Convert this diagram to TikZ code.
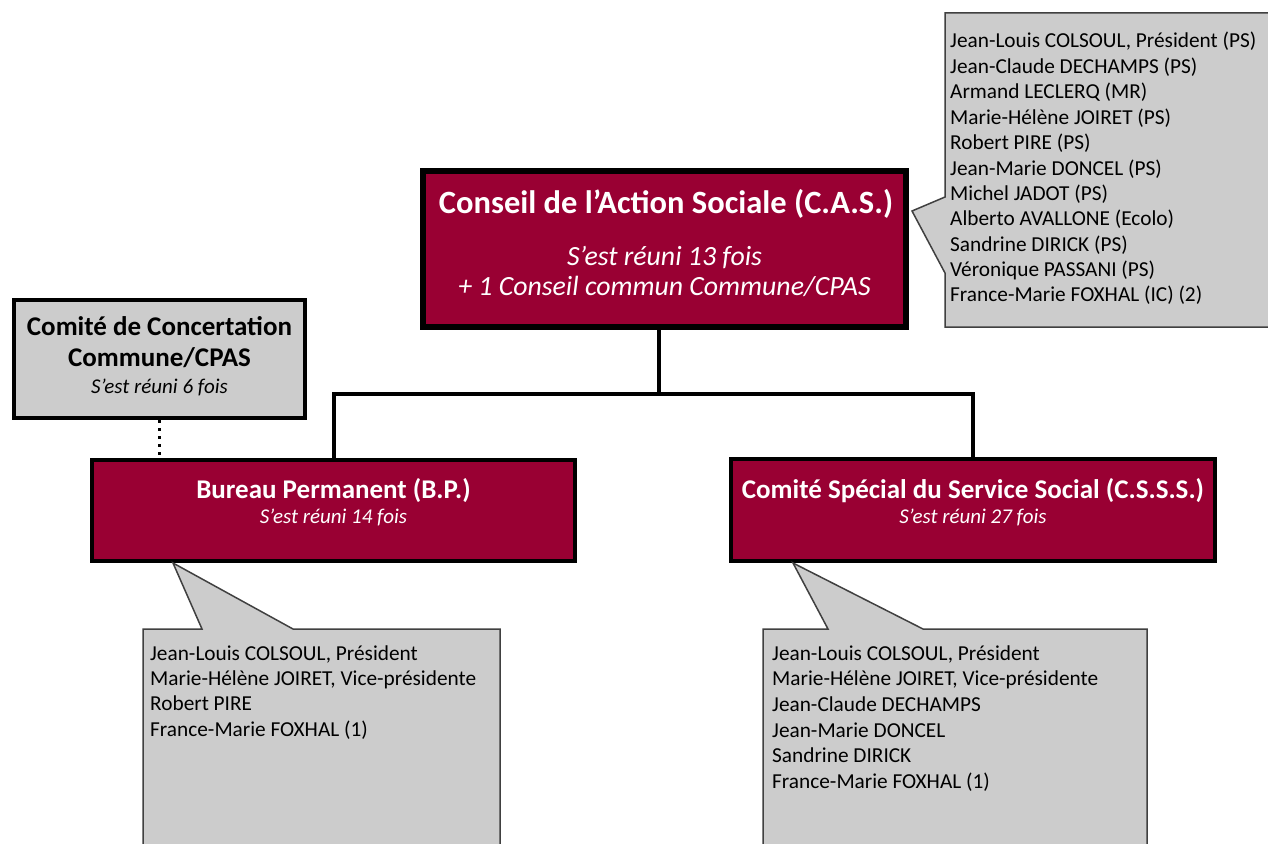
\documentclass[tikz,border=0pt]{standalone}
\usepackage{fontspec}
\setmainfont{Carlito}
\definecolor{bordeaux}{RGB}{153,0,51}
\definecolor{lightgr}{RGB}{204,204,204}
\definecolor{edgegr}{RGB}{64,64,64}
\tikzset{
  redbox/.style={draw=black, fill=bordeaux, inner sep=0pt},
  greybox/.style={draw=black, line width=4pt, fill=lightgr, inner sep=0pt},
  callout/.style={draw=edgegr, line width=1.5pt, fill=lightgr, line join=miter},
  conn/.style={draw=black, line width=4pt},
  dotline/.style={draw=black, line width=3pt, dash pattern=on 3pt off 5pt},
  bigtitle/.style={anchor=base, inner sep=0pt, text=white, font=\fontsize{32.5}{38}\selectfont\bfseries},
  bigsub/.style={anchor=base, inner sep=0pt, text=white, font=\fontsize{27.8}{32}\selectfont\itshape},
  midtitle/.style={anchor=base, inner sep=0pt, font=\fontsize{27}{32}\selectfont\bfseries},
  smallsub/.style={anchor=base, inner sep=0pt, font=\fontsize{21}{26}\selectfont\itshape},
  listtext/.style={anchor=base west, inner sep=0pt}
}
\begin{document}
\begin{tikzpicture}[x=1pt,y=-1pt]
\useasboundingbox (0,0) rectangle (1268,843);
\clip (0,0) rectangle (1268,843);
\fill[white] (0,0) rectangle (1268,843);

% box nodes
\node[redbox, line width=6pt, minimum width=483pt, minimum height=156pt] (cas) at (664.5,249) {};
\node[redbox, line width=4pt, minimum width=483pt, minimum height=101pt] (bp) at (333.5,510.5) {};
\node[redbox, line width=4pt, minimum width=484pt, minimum height=102pt] (csss) at (973,510) {};
\node[greybox, minimum width=291pt, minimum height=118pt] (conc) at (159.5,359) {};

% connectors
\coordinate (jn) at (659,394);
\draw[conn] (cas.south -| jn) -- (jn);
\draw[conn] (jn) -| (bp.north);
\draw[conn] (jn) -| (csss.north);
\draw[dotline] (conc.south) -- (conc.south |- bp.north);

% boxes drawn again over the connector ends
\node[redbox, line width=6pt, minimum width=483pt, minimum height=156pt] at (cas) {};
\node[redbox, line width=4pt, minimum width=483pt, minimum height=101pt] at (bp) {};
\node[redbox, line width=4pt, minimum width=484pt, minimum height=102pt] at (csss) {};
\node[greybox, minimum width=291pt, minimum height=118pt] at (conc) {};

% callouts
\coordinate (castip) at (912,211);
\coordinate (bptip) at (173,563);
\coordinate (cssstip) at (793,563);
\draw[callout] (945,13) -- (1280,13) -- (1280,327) -- (945,327) -- (945,273) -- (castip) -- (945,197) -- cycle;
\draw[callout] (143,629) -- (202,629) -- (bptip) -- (293,629) -- (500,629) -- (500,860) -- (143,860) -- cycle;
\draw[callout] (763,629) -- (828,629) -- (cssstip) -- (923,629) -- (1147,629) -- (1147,860) -- (763,860) -- cycle;

% texts
\node[bigtitle] (casT) at (666,213) {Conseil de l’Action Sociale (C.A.S.)};
\node[bigsub] (casS1) at (664.5,265) {S’est réuni 13 fois};
\node[bigsub] (casS2) at (664.5,295) {+ 1 Conseil commun Commune/CPAS};

\node[midtitle, text=white] (bpT) at (333.5,498) {Bureau Permanent (B.P.)};
\node[smallsub, text=white] (bpS) at (333.5,523) {S’est réuni 14 fois};

\node[midtitle, text=white] (cssT) at (973,498) {Comité Spécial du Service Social (C.S.S.S.)};
\node[smallsub, text=white] (cssS) at (973,523) {S’est réuni 27 fois};

\node[midtitle] (concT1) at (159.5,335) {Comité de Concertation};
\node[midtitle] (concT2) at (159.5,366) {Commune/CPAS};
\node[smallsub] (concS) at (159.5,393) {S’est réuni 6 fois};

\node[listtext] (casL) at (950,48) {\parbox[t]{330pt}{\fontsize{21.3}{25.4}\selectfont\raggedright
Jean-Louis COLSOUL, Président (PS)\\
Jean-Claude DECHAMPS (PS)\\
Armand LECLERQ (MR)\\
Marie-Hélène JOIRET (PS)\\
Robert PIRE (PS)\\
Jean-Marie DONCEL (PS)\\
Michel JADOT (PS)\\
Alberto AVALLONE (Ecolo)\\
Sandrine DIRICK (PS)\\
Véronique PASSANI (PS)\\
France-Marie FOXHAL (IC) (2)}};

\node[listtext] (bpL) at (150,660) {\parbox[t]{340pt}{\fontsize{21.3}{25.4}\selectfont\raggedright
Jean-Louis COLSOUL, Président\\
Marie-Hélène JOIRET, Vice-présidente\\
Robert PIRE\\
France-Marie FOXHAL (1)}};

\node[listtext] (csssL) at (772,660) {\parbox[t]{370pt}{\fontsize{21.3}{25.7}\selectfont\raggedright
Jean-Louis COLSOUL, Président\\
Marie-Hélène JOIRET, Vice-présidente\\
Jean-Claude DECHAMPS\\
Jean-Marie DONCEL\\
Sandrine DIRICK\\
France-Marie FOXHAL (1)}};
\end{tikzpicture}
\end{document}
